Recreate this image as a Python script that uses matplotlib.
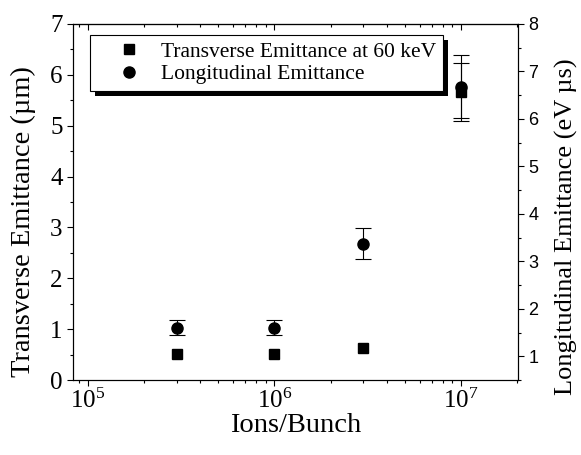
import numpy as np
import matplotlib
matplotlib.use("Agg")
import matplotlib.pyplot as plt
from matplotlib.patches import Rectangle
from matplotlib.ticker import MultipleLocator, LogLocator

plt.rcParams['font.family'] = ['Liberation Serif', 'DejaVu Serif']
plt.rcParams['mathtext.fontset'] = 'custom'
plt.rcParams['mathtext.rm'] = 'Liberation Serif'
plt.rcParams['mathtext.it'] = 'Liberation Serif:italic'

# data
ions = np.array([3e5, 1e6, 3e6, 1e7])
trans_emit = np.array([0.51, 0.51, 0.62, 5.67])      # um, left axis
trans_err = np.array([0.0, 0.0, 0.0, 0.57])
long_emit = np.array([1.60, 1.60, 3.37, 6.68])       # eV us, right axis
long_err = np.array([0.16, 0.16, 0.33, 0.67])

fig = plt.figure(figsize=(5.81, 4.55), dpi=100)
ax = fig.add_axes([0.1256, 0.1648, 0.766, 0.7825])
ax2 = ax.twinx()

m = trans_err > 0
ax.errorbar(ions[m], trans_emit[m], yerr=trans_err[m], fmt='none', ecolor='k',
            elinewidth=0.8, capsize=5.5, capthick=0.8)
sq, = ax.plot(ions, trans_emit, 's', color='k', ms=7.2,
              label='Transverse Emittance at 60 keV')
ax2.errorbar(ions, long_emit, yerr=long_err, fmt='none', ecolor='k',
             elinewidth=0.8, capsize=5.5, capthick=0.8)
ci, = ax2.plot(ions, long_emit, 'o', color='k', ms=8,
               label='Longitudinal Emittance')

ax.set_xscale('log')
ax.set_xlim(8.34e4, 2.02e7)
ax.set_ylim(0, 7)
ax2.set_ylim(0.5, 8)

ax.yaxis.set_major_locator(MultipleLocator(1))
ax.yaxis.set_minor_locator(MultipleLocator(0.5))
ax2.yaxis.set_major_locator(MultipleLocator(1))
ax2.yaxis.set_minor_locator(MultipleLocator(0.5))
ax.xaxis.set_major_locator(LogLocator(base=10))
ax.xaxis.set_minor_locator(LogLocator(base=10, subs=np.arange(2, 10)))

ax.tick_params(axis='y', which='both', direction='out', labelsize=18, width=0.8)
ax.tick_params(axis='y', which='major', length=4)
ax.tick_params(axis='y', which='minor', length=2.5)
ax.tick_params(axis='x', which='both', direction='out', labelsize=18, width=0.8,
               top=False, pad=2)
ax.tick_params(axis='x', which='major', length=4.5)
ax.tick_params(axis='x', which='minor', length=2.5)
ax2.tick_params(axis='y', which='both', direction='out', labelsize=13, width=0.8)
ax2.tick_params(axis='y', which='major', length=4)
ax2.tick_params(axis='y', which='minor', length=2.5)
for lab in ax2.get_yticklabels():
    lab.set_family('Liberation Sans')

# inward ticks along the top edge
sec = ax.secondary_xaxis('top')
sec.xaxis.set_major_locator(LogLocator(base=10))
sec.xaxis.set_minor_locator(LogLocator(base=10, subs=np.arange(2, 10)))
sec.tick_params(which='both', direction='in', labeltop=False, width=0.8)
sec.tick_params(which='major', length=4.5)
sec.tick_params(which='minor', length=2.5)

for a in (ax, ax2):
    for s in a.spines.values():
        s.set_linewidth(0.8)

ax.set_xlabel('Ions/Bunch', fontsize=20.5, labelpad=0)
ax.set_ylabel('Transverse Emittance (\u00b5m)', fontsize=20.5)
ax.yaxis.set_label_coords(-0.083, 0.445)
ax2.set_ylabel('Longitudinal Emittance (eV \u00b5s)', fontsize=19)
ax2.yaxis.set_label_coords(1.082, 0.43)

leg = ax2.legend([sq, ci], [sq.get_label(), ci.get_label()], loc='upper left',
                 bbox_to_anchor=(0.038, 0.969),
                 fontsize=15.5, frameon=True, fancybox=False, edgecolor='k',
                 framealpha=1, borderaxespad=0, labelspacing=0.12,
                 handletextpad=0.0, borderpad=0.3, handlelength=3.0)
leg.get_frame().set_linewidth(0.8)

fig.canvas.draw()
bb = leg.get_window_extent()
inv = fig.transFigure.inverted()
x0, y0 = inv.transform((bb.x0 + 5, bb.y0 - 5))
x1, y1 = inv.transform((bb.x1 + 5, bb.y1 - 5))
shadow = Rectangle((x0, y0), x1 - x0, y1 - y0, facecolor='k', edgecolor='none',
                   zorder=4)
ax2.add_artist(shadow)
shadow.set_transform(fig.transFigure)
leg.set_zorder(5)

fig.savefig('out.png', dpi=100)
